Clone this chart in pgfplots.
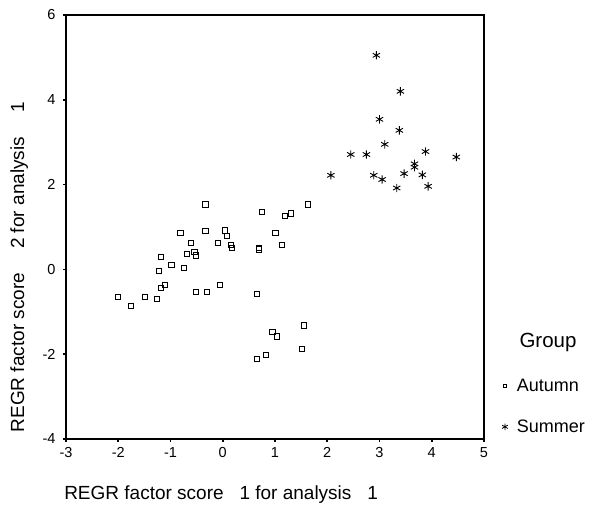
\documentclass[border=0pt]{standalone}
\usepackage{pgfplots}
\pgfplotsset{compat=1.18}
\usepackage{fontspec}
\setmainfont{Liberation Sans}
\begin{document}
\begin{tikzpicture}
\useasboundingbox (-66pt,-73pt) rectangle (530pt,439pt);
\begin{axis}[
  name=ax,
  at={(0pt,0pt)}, anchor=south west,
  scale only axis, width=418pt, height=424pt,
  xmin=-3, xmax=5, ymin=-4, ymax=6,
  xtick={-3,-2,...,5}, ytick={-4,-2,...,6},
  axis line style={line width=1.4pt, black},
  tick align=outside, major tick length=3pt,
  tick style={line width=1.6pt, black},
  xtick pos=left, ytick pos=left,
  /pgf/number format/assume math mode=true,
  ticklabel style={font=\fontsize{14.5}{16}\selectfont},
  xticklabel style={yshift=-2pt},
  yticklabel style={xshift=-4pt},
  xlabel={REGR factor score \ \ 1 for analysis \ \ 1},
  ylabel={REGR factor score\hspace{24pt}2 for analysis\hspace{24pt}1},
  label style={font=\fontsize{19}{21}\selectfont},
  xlabel style={at={(axis description cs:0.371,-0.130)}, anchor=center},
  ylabel style={at={(axis description cs:-0.112,0.405)}, anchor=center},
  legend style={draw=none, fill=none, at={(axis description cs:1.040,0.007)}, anchor=south west,
    font=\fontsize{18}{20}\selectfont, row sep=23pt, inner sep=0pt},
  legend cell align=left,
  legend image code/.code={\path[draw=none] (0pt,0pt) -- (14pt,0pt); \draw plot coordinates {(4pt,0pt)};},
]
\addplot[only marks, mark=square, mark size=2.6pt, mark options={line width=0.9pt, black},
  legend image post style={mark size=1.9pt, mark options={line width=0.8pt}}] coordinates {
(-0.81,0.86) (-0.33,0.90) (0.04,0.92) (0.08,0.79) (1.01,0.86)
(-0.61,0.63) (-0.09,0.63) (0.15,0.57) (0.18,0.50) (0.69,0.50)
(0.70,0.47) (1.13,0.57) (1.14,0.58) (-1.19,0.30) (-0.69,0.37)
(-0.54,0.41) (-0.52,0.33) (-0.98,0.10) (-1.22,-0.03) (-0.74,0.04)
(-1.19,-0.43) (-1.11,-0.36) (-0.52,-0.53) (-0.31,-0.53) (-0.06,-0.36)
(-2.01,-0.65) (-1.75,-0.86) (-1.49,-0.65) (-1.26,-0.69) (0.66,-0.57)
(0.95,-1.48) (1.03,-1.58) (0.66,-2.11) (0.83,-2.01) (1.55,-1.32)
(1.52,-1.87) (-0.33,1.53) (0.75,1.35) (1.19,1.26) (1.30,1.32)
(1.63,1.53)
};
\addlegendentry{Autumn}
\addplot[only marks, mark=asterisk, mark size=4.2pt, mark options={line width=0.9pt, black},
  legend image post style={mark size=3.3pt, mark options={line width=0.8pt}}] coordinates {
(2.94,5.05) (3.40,4.20) (3.00,3.54) (3.38,3.28) (3.10,2.95)
(2.45,2.71) (2.75,2.71) (3.88,2.78) (4.47,2.65) (3.67,2.49)
(3.67,2.41) (2.07,2.22) (2.89,2.22) (3.05,2.12) (3.47,2.26)
(3.82,2.23) (3.33,1.92) (3.93,1.96)
};
\addlegendentry{Summer}
\end{axis}
\draw[line width=2.2pt, draw=black] (ax.north west) -- (ax.north east) -- (ax.south east);
\node[font=\fontsize{20.5}{22}\selectfont] at (482pt,97pt) {Group};
\end{tikzpicture}
\end{document}
